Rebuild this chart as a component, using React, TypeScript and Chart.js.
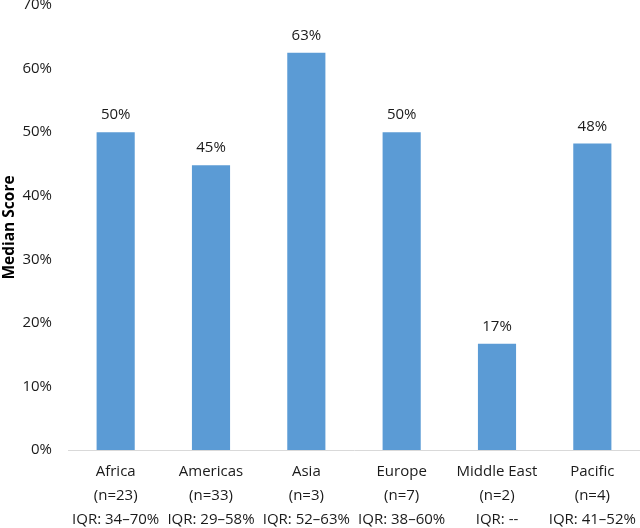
import React, { useEffect, useRef } from "react";
import { Chart, registerables } from "chart.js";

Chart.register(...registerables);

const regions = ["Africa", "Americas", "Asia", "Europe", "Middle East", "Pacific"];
const counts = ["(n=23)", "(n=33)", "(n=3)", "(n=7)", "(n=2)", "(n=4)"];
const iqrs = ["IQR: 34–70%", "IQR: 29–58%", "IQR: 52–63%", "IQR: 38–60%", "IQR: --", "IQR: 41–52%"];
const medians = [50, 44.8, 62.5, 50, 16.7, 48.2];
const medianLabels = ["50%", "45%", "63%", "50%", "17%", "48%"];

const FONT = "'Open Sans'";
const TEXT = "#1a1a1a";

const dataLabelPlugin = {
  id: "dataLabels",
  afterDatasetsDraw(chart: any) {
    const ctx = chart.ctx;
    const meta = chart.getDatasetMeta(0);
    ctx.save();
    ctx.font = `15px ${FONT}`;
    ctx.fillStyle = TEXT;
    ctx.textAlign = "center";
    ctx.textBaseline = "middle";
    meta.data.forEach((bar: any, i: number) => {
      ctx.fillText(medianLabels[i], bar.x, bar.y - 17);
    });
    ctx.restore();
  },
};

export default function App() {
  const ref = useRef<HTMLCanvasElement>(null);
  useEffect(() => {
    if (!ref.current) return;
    const chart = new Chart(ref.current, {
      type: "bar",
      data: {
        labels: regions.map((r, i) => [r, counts[i], iqrs[i]]),
        datasets: [
          {
            data: medians,
            backgroundColor: "#5B9BD5",
            barPercentage: 0.4,
            categoryPercentage: 1,
          },
        ],
      },
      options: {
        animation: false,
        responsive: false,
        maintainAspectRatio: false,
        layout: { padding: { top: 5, right: 0, bottom: 0, left: 0 } },
        plugins: { legend: { display: false }, tooltip: { enabled: false } },
        scales: {
          x: {
            grid: { display: false, drawTicks: false },
            border: { display: true, color: "#d9d9d9", width: 1 },
            ticks: {
              color: TEXT,
              font: { family: FONT, size: 15, lineHeight: "24px" },
              padding: 10,
              maxRotation: 0,
              minRotation: 0,
              autoSkip: false,
            },
            afterFit: (scale: any) => {
              scale.height = 78;
              scale.paddingLeft = 0;
              scale.paddingRight = 0;
            },
          },
          y: {
            min: 0,
            max: 70,
            grid: { display: false, drawTicks: false },
            border: { display: false },
            ticks: {
              stepSize: 10,
              color: TEXT,
              font: { family: FONT, size: 15 },
              padding: 16,
              callback: (v: any) => `${v}%`,
            },
            title: {
              display: true,
              text: "Median Score",
              color: "#000",
              font: { family: FONT, size: 15.5, weight: "bold" },
              padding: { top: 0, bottom: 0 },
            },
            afterFit: (scale: any) => {
              scale.width = 68;
              scale.paddingTop = 0;
              scale.paddingBottom = 0;
            },
          },
        },
      },
      plugins: [dataLabelPlugin],
    });
    return () => chart.destroy();
  }, []);
  return (
    <div style={{ position: "absolute", left: 0, top: 0, width: 640, height: 528 }}>
      <canvas ref={ref} width={640} height={528} style={{ width: 640, height: 528, display: "block" }} />
    </div>
  );
}
